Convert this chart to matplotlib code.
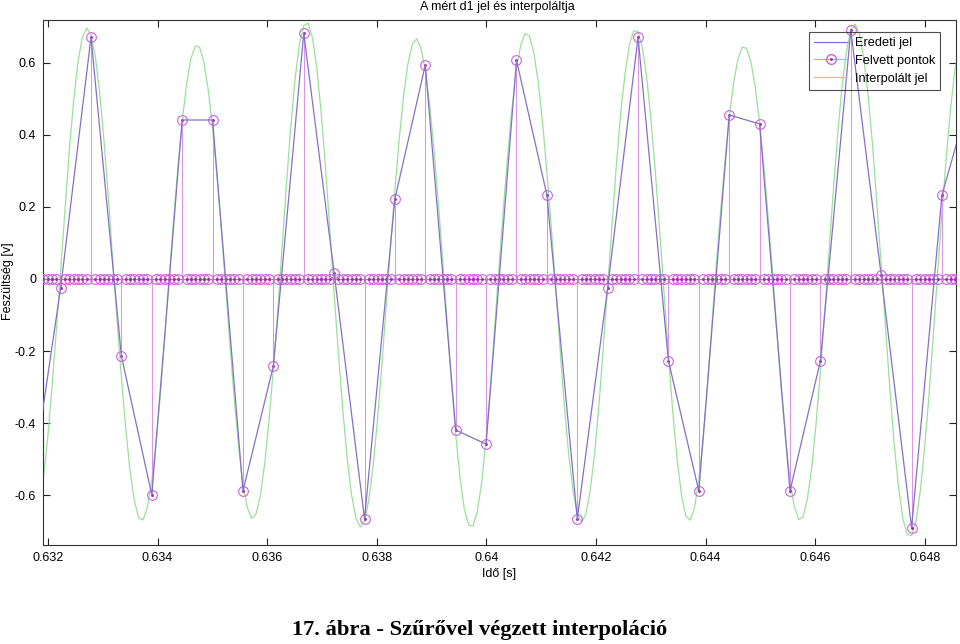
import numpy as np
import matplotlib
matplotlib.use("Agg")
import matplotlib.pyplot as plt
from matplotlib.lines import Line2D
from matplotlib.legend_handler import HandlerTuple

plt.rcParams['font.family'] = ['Liberation Sans', 'DejaVu Sans']
plt.rcParams['axes.unicode_minus'] = False

# ---- data ----
# original samples (sampling period T), first sample time t_first
t_first = 0.631676
T = 0.00055456
L_up = 7  # upsampling factor
orig_vals = [-0.60, -0.025, 0.671, -0.214, -0.599, 0.441, 0.441, -0.588, -0.241, 0.682,
             0.017, -0.666, 0.222, 0.594, -0.419, -0.458, 0.607, 0.233, -0.666, -0.025,
             0.671, -0.227, -0.588, 0.455, 0.43, -0.588, -0.227, 0.69, 0.01, -0.69,
             0.233, 0.53]

# interpolated (filtered) signal on the upsampled grid
interp_vals = [
    -0.674, -0.675, -0.636, -0.556, -0.445, -0.303, -0.144,
    0.024, 0.194, 0.357, 0.494, 0.603, 0.670, 0.696,
    0.678, 0.617, 0.516, 0.383, 0.225, 0.052, -0.115,
    -0.274, -0.415, -0.533, -0.616, -0.663, -0.668, -0.633,
    -0.559, -0.452, -0.317, -0.161, 0.004, 0.162, 0.309,
    0.437, 0.539, 0.611, 0.646, 0.643, 0.602, 0.525,
    0.419, 0.286, 0.138, -0.021, -0.182, -0.334, -0.466,
    -0.570, -0.634, -0.664, -0.652, -0.602, -0.513, -0.393,
    -0.249, -0.089, 0.083, 0.259, 0.421, 0.555, 0.651,
    0.703, 0.710, 0.670, 0.586, 0.463, 0.312, 0.138,
    -0.042, -0.209, -0.363, -0.496, -0.598, -0.663, -0.688,
    -0.671, -0.612, -0.517, -0.389, -0.238, -0.071, 0.093,
    0.248, 0.391, 0.508, 0.597, 0.651, 0.666, 0.641,
    0.579, 0.484, 0.357, 0.212, 0.052, -0.117, -0.283,
    -0.431, -0.552, -0.640, -0.683, -0.685, -0.644, -0.563,
    -0.444, -0.298, -0.131, 0.039, 0.198, 0.348, 0.478,
    0.582, 0.650, 0.681, 0.674, 0.628, 0.546, 0.435,
    0.298, 0.145, -0.018, -0.188, -0.348, -0.483, -0.586,
    -0.652, -0.674, -0.652, -0.585, -0.484, -0.350, -0.188,
    -0.019, 0.153, 0.315, 0.460, 0.570, 0.649, 0.689,
    0.686, 0.642, 0.558, 0.439, 0.295, 0.132, -0.040,
    -0.211, -0.370, -0.500, -0.599, -0.657, -0.669, -0.635,
    -0.557, -0.444, -0.297, -0.131, 0.038, 0.186, 0.324,
    0.448, 0.543, 0.610, 0.643, 0.640, 0.602, 0.532,
    0.432, 0.310, 0.167, 0.017, -0.148, -0.308, -0.446,
    -0.557, -0.632, -0.667, -0.660, -0.611, -0.523, -0.402,
    -0.257, -0.092, 0.078, 0.249, 0.404, 0.535, 0.631,
    0.690, 0.707, 0.680, 0.612, 0.508, 0.373, 0.210,
    0.038, -0.137, -0.305, -0.458, -0.576, -0.665, -0.709,
    -0.712, -0.672, -0.589, -0.468, -0.325, -0.156, 0.018,
    0.184, 0.338, 0.474, 0.581, 0.648, 0.679, 0.668,
    0.615,
]

xticks = [0.632, 0.634, 0.636, 0.638, 0.640, 0.642, 0.644, 0.646, 0.648]
xtick_labels = ['0.632', '0.634', '0.636', '0.638', '0.64', '0.642', '0.644', '0.646', '0.648']
yticks = [-0.6, -0.4, -0.2, 0, 0.2, 0.4, 0.6]
ytick_labels = ['-0.6', '-0.4', '-0.2', '0', '0.2', '0.4', '0.6']

title = 'A mért d1 jel és interpoláltja'
xlabel = 'Idő [s]'
ylabel = 'Feszültség [v]'
caption = '17. ábra - Szűrővel végzett interpoláció'
legend_labels = ['Eredeti jel', 'Felvett pontok', 'Interpolált jel']

# ---- derived series ----
orig = np.array(orig_vals)
t_orig = t_first + T * np.arange(len(orig))
up = np.zeros((len(orig) - 1) * L_up + 1)
up[::L_up] = orig
t_up = t_first + (T / L_up) * np.arange(len(up))
interp = np.array(interp_vals)
t_interp = t_first + (T / L_up) * np.arange(len(interp))

c_orig = '#8470c8'
c_stem = '#dc96e8'
c_mark = '#d060dc'
c_interp = '#9ae09a'

fig = plt.figure(figsize=(9.6, 6.44), dpi=100)
ax = fig.add_axes([43/960, 1 - 545/644, (956-43)/960, (545-20)/644])

ax.plot(t_interp, interp, color=c_interp, lw=0.9, zorder=2)
ml, sl, bl = ax.stem(t_up, up, linefmt='-', markerfmt='o', basefmt='-')
plt.setp(sl, color=c_stem, lw=0.8)
plt.setp(ml, color=c_mark, mfc='none', mec=c_mark, ms=7, mew=0.8)
plt.setp(bl, color=c_mark, lw=0.8)
ml.set_zorder(3)
sl.set_zorder(2.5)
ax.plot(t_up, up, ls='none', marker='.', ms=2.2, color='#a02aa8', zorder=3.2)
ax.plot(t_orig, orig, color=c_orig, lw=0.9, zorder=4)

ax.set_xlim(0.631909, 0.648569)
ax.set_ylim(-0.7379, 0.7184)
ax.set_xticks(xticks)
ax.set_xticklabels(xtick_labels)
ax.set_yticks(yticks)
ax.set_yticklabels(ytick_labels)
ax.tick_params(direction='in', top=True, right=True, length=5, width=0.8,
               labelsize=9, pad=5, colors='#222222')
ax.tick_params(axis='x', labelcolor='black')
ax.tick_params(axis='y', labelcolor='black')
for s in ax.spines.values():
    s.set_color('#333333')
    s.set_linewidth(0.8)

ax.set_xlabel(xlabel, fontsize=9, labelpad=3)
fig.text(8/960, 1 - 281/644, ylabel, rotation=90, ha='center', va='center', fontsize=9)
fig.text(0.518, 1 - 7/644, title, ha='center', va='center', fontsize=9)
fig.text(0.5, 1 - 630/644, caption, ha='center', va='center', fontsize=16.2,
         family='Liberation Serif', fontweight='bold')

h1 = Line2D([], [], color=c_orig, lw=0.9)
h2 = (Line2D([], [], color=c_stem, lw=0.8, marker='o', mfc='none', mec=c_mark, ms=7),
      Line2D([], [], ls='none', marker='.', ms=2.2, color='#a02aa8'))
h3 = Line2D([], [], color=c_interp, lw=0.9)
leg = ax.legend([h1, h2, h3], legend_labels, handler_map={tuple: HandlerTuple(ndivide=1)},
                loc='upper left', bbox_to_anchor=((809-43)/913, (545-32)/525),
                fontsize=9.2, frameon=True, fancybox=False, borderpad=0.4,
                handlelength=2.6, labelspacing=0.45, handletextpad=0.6, borderaxespad=0)
leg.get_frame().set_facecolor('none')
leg.get_frame().set_edgecolor('#222222')
leg.get_frame().set_linewidth(0.8)

fig.savefig('out.png', dpi=100)
